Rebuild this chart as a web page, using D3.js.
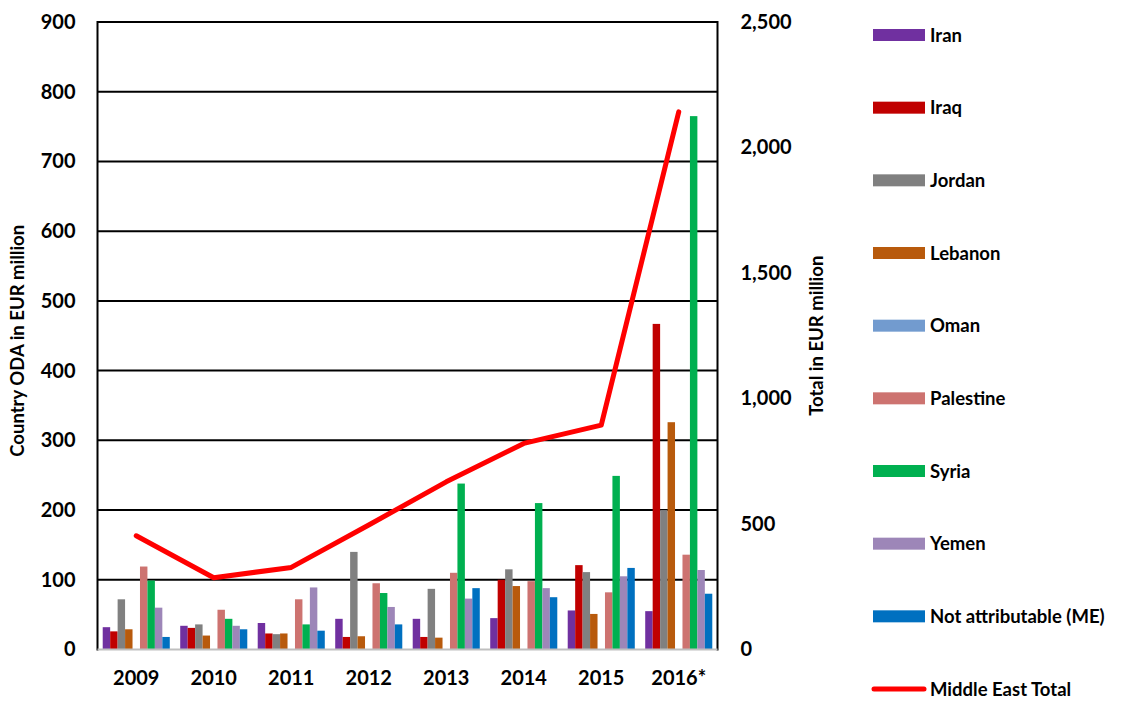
<!DOCTYPE html>
<html>
<head>
<meta charset="utf-8">
<script src="https://cdn.jsdelivr.net/npm/d3@7"></script>
<style>
  html, body { margin: 0; padding: 0; background: #fff; }
  svg { display: block; font-family: Lato, "Open Sans", sans-serif; font-weight: bold; }
</style>
</head>
<body>
<svg id="chart" width="1121" height="701"></svg>
<script>
const years = ["2009", "2010", "2011", "2012", "2013", "2014", "2015", "2016*"];
const seriesNames = ["Iran", "Iraq", "Jordan", "Lebanon", "Oman", "Palestine", "Syria", "Yemen", "Not attributable (ME)"];
const seriesColors = ["#7030A0", "#C00000", "#808080", "#B85A0C", "#729BCF", "#CD7370", "#00B050", "#9D86B8", "#0070C0"];

const iran      = [32, 34, 38, 44, 44, 45, 56, 55];
const iraq      = [26, 31, 23, 18, 18, 100, 121, 467];
const jordan    = [72, 36, 22, 140, 87, 115, 111, 200];
const lebanon   = [29, 20, 23, 19, 17, 91, 51, 326];
const oman      = [0, 0, 0, 0, 0, 0, 0, 0];
const palestine = [119, 57, 72, 95, 110, 98, 82, 136];
const syria     = [99, 44, 36, 81, 238, 210, 249, 765];
const yemen     = [60, 34, 89, 61, 73, 88, 105, 114];
const notAttr   = [18, 29, 27, 36, 88, 75, 117, 80];
const meTotal   = [453, 286, 327, 496, 668, 821, 894, 2142];

const leftTicks = [0, 100, 200, 300, 400, 500, 600, 700, 800, 900];
const rightTicks = [0, 500, 1000, 1500, 2000, 2500];
const lineName = "Middle East Total";

const seriesValues = [iran, iraq, jordan, lebanon, oman, palestine, syria, yemen, notAttr];

const svg = d3.select("#chart");
const plot = { left: 97.5, right: 717.5, top: 22, bottom: 649.5 };

const x = d3.scaleBand().domain(years).range([plot.left, plot.right]).padding(0);
const xs = d3.scaleBand().domain(seriesNames).range([0, x.bandwidth()]).paddingInner(0).paddingOuter(0.7);
const yL = d3.scaleLinear().domain([0, 900]).range([plot.bottom, plot.top]);
const yR = d3.scaleLinear().domain([0, 2500]).range([plot.bottom, plot.top]);

// gridlines
svg.append("g").selectAll("line").data(leftTicks.filter(d => d > 0)).join("line")
  .attr("x1", plot.left).attr("x2", plot.right)
  .attr("y1", d => yL(d)).attr("y2", d => yL(d))
  .attr("stroke", "#000").attr("stroke-width", 2);

// bars
const rows = [];
seriesNames.forEach((s, si) => {
  years.forEach((yr, yi) => rows.push({ s, si, yr, v: seriesValues[si][yi] }));
});
svg.append("g").selectAll("rect").data(rows.filter(d => d.v > 0)).join("rect")
  .attr("x", d => x(d.yr) + xs(d.s))
  .attr("y", d => yL(d.v))
  .attr("width", xs.bandwidth())
  .attr("height", d => yL(0) - yL(d.v))
  .attr("fill", d => seriesColors[d.si]);

// axes lines
svg.append("line").attr("x1", plot.left).attr("x2", plot.left).attr("y1", plot.top - 1).attr("y2", plot.bottom + 1)
  .attr("stroke", "#000").attr("stroke-width", 2);
svg.append("line").attr("x1", plot.right).attr("x2", plot.right).attr("y1", plot.top - 1).attr("y2", plot.bottom + 1)
  .attr("stroke", "#000").attr("stroke-width", 2);
svg.append("line").attr("x1", plot.left).attr("x2", plot.right).attr("y1", plot.bottom).attr("y2", plot.bottom)
  .attr("stroke", "#BFBFBF").attr("stroke-width", 2);

// line series
const line = d3.line().x((d, i) => x(years[i]) + x.bandwidth() / 2).y(d => yR(d));
svg.append("path").datum(meTotal).attr("d", line)
  .attr("fill", "none").attr("stroke", "#FF0000").attr("stroke-width", 5)
  .attr("stroke-linecap", "round").attr("stroke-linejoin", "round");

// left axis
const axL = d3.axisLeft(yL).tickValues(leftTicks).tickSize(0).tickPadding(22);
const gL = svg.append("g").attr("transform", `translate(${plot.left},0)`).call(axL);
gL.select(".domain").remove();
gL.selectAll("text").attr("font-size", 20).attr("font-family", "Lato").attr("font-weight", "bold").attr("fill", "#000");

// right axis
const axR = d3.axisRight(yR).tickValues(rightTicks).tickFormat(d3.format(",")).tickSize(0).tickPadding(23);
const gR = svg.append("g").attr("transform", `translate(${plot.right},0)`).call(axR);
gR.select(".domain").remove();
gR.selectAll("text").attr("font-size", 20).attr("font-family", "Lato").attr("font-weight", "bold").attr("fill", "#000");

// bottom axis
const axB = d3.axisBottom(x).tickSize(0).tickPadding(21);
const gB = svg.append("g").attr("transform", `translate(0,${plot.bottom})`).call(axB);
gB.select(".domain").remove();
gB.selectAll("text").attr("font-size", 20).attr("font-family", "Lato").attr("font-weight", "bold").attr("fill", "#000");

// axis titles
svg.append("text").attr("transform", `translate(24,${(plot.top + plot.bottom) / 2 + 5}) rotate(-90)`)
  .attr("text-anchor", "middle").attr("font-size", 18.5).text("Country ODA in EUR million");
svg.append("text").attr("transform", `translate(823,${(plot.top + plot.bottom) / 2}) rotate(-90)`)
  .attr("text-anchor", "middle").attr("font-size", 18.5).text("Total in EUR million");

// legend
const legendNames = seriesNames.concat([lineName]);
const ly = d3.scalePoint().domain(legendNames).range([35, 689]);
const lg = svg.append("g");
seriesNames.forEach((s, i) => {
  lg.append("rect").attr("x", 873).attr("y", ly(s) - 6).attr("width", 52).attr("height", 12).attr("fill", seriesColors[i]);
});
lg.append("line").attr("x1", 874).attr("x2", 924).attr("y1", ly(lineName)).attr("y2", ly(lineName))
  .attr("stroke", "#FF0000").attr("stroke-width", 5).attr("stroke-linecap", "round");
lg.selectAll("text").data(legendNames).join("text")
  .attr("x", 930).attr("y", d => ly(d)).attr("dy", "0.36em")
  .attr("font-size", 18.5).attr("fill", "#000").text(d => d);
</script>
</body>
</html>
